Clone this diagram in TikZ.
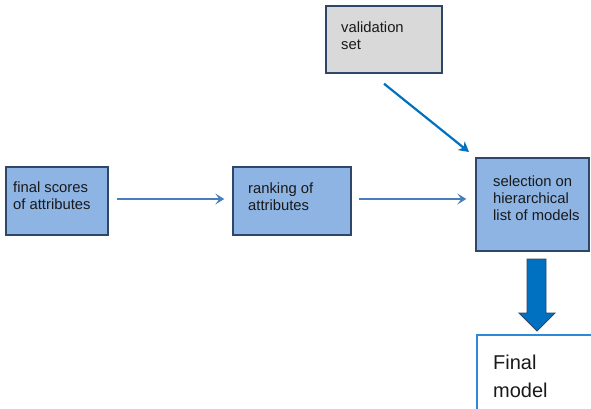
\documentclass[tikz,border=0pt]{standalone}
\usepackage{fontspec}
\setmainfont{Liberation Sans}
\usetikzlibrary{positioning}
\usetikzlibrary{arrows.meta}

\definecolor{boxblue}{RGB}{142,180,227}
\definecolor{boxline}{RGB}{45,70,105}
\definecolor{boxgray}{RGB}{217,217,217}
\definecolor{flowblue}{RGB}{74,126,187}
\definecolor{deepblue}{RGB}{0,112,192}
\definecolor{finalline}{RGB}{45,137,214}

\tikzset{
  stagebox/.style={draw=boxline, line width=1.4pt, fill=boxblue, inner sep=0pt},
  inputbox/.style={draw=boxline, line width=1.4pt, fill=boxgray, inner sep=0pt},
  boxtext/.style={anchor=north west, inner sep=0pt, align=left, text=black!90,
    font=\fontsize{14.8}{16.8}\selectfont},
  flow/.style={draw=flowblue, line width=1.8pt,
    -{Stealth[length=9pt,width=11pt,inset=4pt]}},
  feed/.style={draw=deepblue, line width=2.2pt,
    -{Stealth[length=10pt,width=11pt,inset=3pt]}}
}

\begin{document}
\begin{tikzpicture}[x=1pt,y=-1pt]
  \useasboundingbox (0,0) rectangle (591,409);
  \clip (0,0) rectangle (591,409);

  %% the boxes
  \node[stagebox, minimum width=102pt, minimum height=68pt] (scores) at (57,201) {};
  \node[stagebox, minimum width=118pt, minimum height=68pt] (ranking) at (292,201) {};
  \node[stagebox, minimum width=113pt, minimum height=93pt] (select) at (532.5,204.5) {};
  \node[inputbox, minimum width=116pt, minimum height=67pt] (valid) at (384,39.5) {};

  %% texts
  \node[boxtext] (scorestext) at (13,182) {final scores\\of attributes};
  \node[boxtext] (rankingtext) at (248,183) {ranking of\\attributes};
  \node[boxtext] (selecttext) at (493,176) {selection on\\hierarchical\\list of models};
  \node[boxtext] (validtext) at (341,22) {validation\\set};

  %% the final model, running off the page
  \draw[finalline, line width=1.6pt] (477,600) |- (700,335);
  \node[boxtext, font=\fontsize{20}{28}\selectfont] (finaltext) at (493,354.5) {Final\\model};

  %% connectors
  \draw[flow] ([yshift=2pt,xshift=8pt]scores.east) -- ([yshift=2pt,xshift=-8pt]ranking.west);
  \draw[flow] ([yshift=2pt,xshift=7pt]ranking.east) -- ([yshift=5.5pt,xshift=-9pt]select.west);
  \coordinate (feedend) at (469,152);
  \draw[feed] ([yshift=-10pt]valid.south) -- (feedend);

  %% block arrow down to the final model
  \draw[fill=deepblue, draw=boxline, line width=0.8pt, line join=miter]
    (527,259) -- (527,313) -- (519,313) -- (537,331) -- (555,313)
    -- (546,313) -- (546,259) -- cycle;
\end{tikzpicture}
\end{document}
